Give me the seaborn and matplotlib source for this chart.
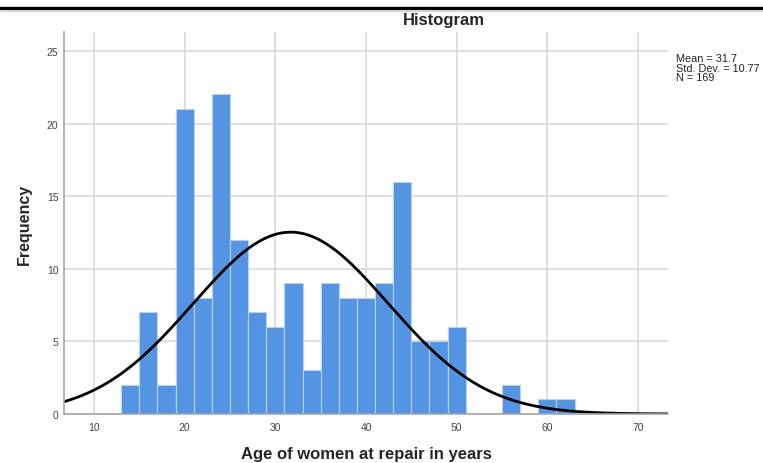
import numpy as np
import pandas as pd
import matplotlib
matplotlib.use("Agg")
import matplotlib.pyplot as plt
import seaborn as sns
from matplotlib.lines import Line2D

# ---- data ----
bin_left = [13, 15, 17, 19, 21, 23, 25, 27, 29, 31, 33, 35, 37, 39, 41, 43, 45, 47, 49,
            51, 53, 55, 57, 59, 61]
counts = [2, 7, 2, 21, 8, 22, 12, 7, 6, 9, 3, 9, 8, 8, 9, 16, 5, 5, 6,
          0, 0, 2, 0, 1, 1]
bin_width = 2
mean_age = 31.7
sd_age = 10.77
n_total = 169
x_ticks = [10, 20, 30, 40, 50, 60, 70]
y_ticks = [0, 5, 10, 15, 20, 25]

sns.set_theme(style="white")
plt.rcParams['font.family'] = ['Liberation Sans', 'DejaVu Sans']

fig = plt.figure(figsize=(7.63, 4.64), dpi=100)
ax = fig.add_axes([64/763, 1-415/464, (668-64)/763, (415-33)/464])

df = pd.DataFrame({"age": np.array(bin_left, dtype=float) + bin_width/2,
                   "count": np.array(counts, dtype=float)})
edges = [float(b) for b in bin_left] + [float(bin_left[-1] + bin_width)]
sns.histplot(data=df, x="age", weights="count", bins=edges, ax=ax,
             color="#5594E2", alpha=1, edgecolor="#B8D2F2", linewidth=0.8)

# fitted normal curve
xs = np.linspace(6.7, 73.3, 400)
ys = n_total * bin_width * np.exp(-0.5 * ((xs - mean_age) / sd_age) ** 2) / (sd_age * np.sqrt(2 * np.pi))
sns.lineplot(x=xs, y=ys, ax=ax, color="black", linewidth=2.0)

ax.set_xlim(6.7, 73.3)
ax.set_ylim(0, 26.3)
ax.set_xticks(x_ticks)
ax.set_yticks(y_ticks)
ax.grid(True, color="#D9D9D9", linewidth=1.2, zorder=0)
ax.set_axisbelow(True)
for s in ["top", "right"]:
    ax.spines[s].set_visible(False)
for s in ["left", "bottom"]:
    ax.spines[s].set_color("#A6A6A6")
    ax.spines[s].set_linewidth(1.2)
ax.tick_params(axis="both", labelsize=7.5, colors="#444444", length=0, pad=6)
ax.tick_params(axis="y", pad=4)

ax.set_xlabel("Age of women at repair in years", fontsize=12, fontweight="bold", labelpad=10)
ax.set_ylabel("Frequency", fontsize=11.5, fontweight="bold", labelpad=11)

fig.text(444/763, 1-21/464, "Histogram", ha="center", va="center", fontsize=12, fontweight="bold")
fig.text(676/763, 1-54/464, "Mean = 31.7\nStd. Dev. = 10.77\nN = 169", ha="left", va="top",
         fontsize=7.8, linespacing=0.96, color="#222222")

# document frame lines at top
fig.add_artist(Line2D([0, 1], [1-8.7/464, 1-8.7/464], color="black", linewidth=2.4, transform=fig.transFigure))
fig.add_artist(Line2D([0, 1], [1-11.5/464, 1-11.5/464], color="#C9D6EA", linewidth=0.8, transform=fig.transFigure))

fig.savefig("out.png", dpi=100)
